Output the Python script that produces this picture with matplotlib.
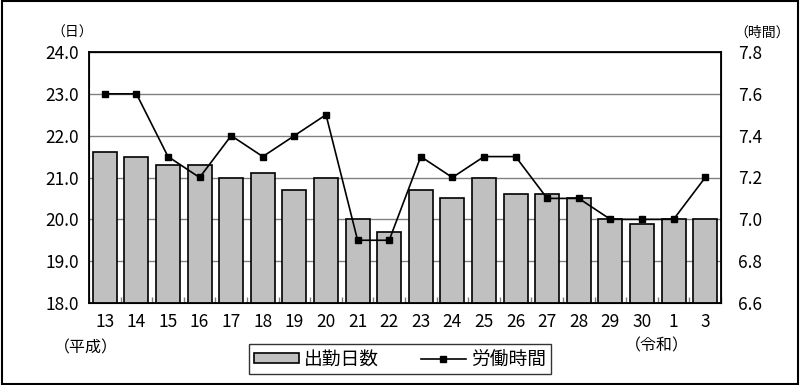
import matplotlib.pyplot as plt
import numpy as np

plt.rcParams['font.family'] = ['Noto Sans CJK JP', 'DejaVu Sans']

# データ
years = ['13', '14', '15', '16', '17', '18', '19', '20', '21', '22',
         '23', '24', '25', '26', '27', '28', '29', '30', '1', '3']
days = [21.6, 21.5, 21.3, 21.3, 21.0, 21.1, 20.7, 21.0, 20.0, 19.7,
        20.7, 20.5, 21.0, 20.6, 20.6, 20.5, 20.0, 19.9, 20.0, 20.0]
hours = [7.6, 7.6, 7.3, 7.2, 7.4, 7.3, 7.4, 7.5, 6.9, 6.9,
         7.3, 7.2, 7.3, 7.3, 7.1, 7.1, 7.0, 7.0, 7.0, 7.2]
left_ticks = [18.0, 19.0, 20.0, 21.0, 22.0, 23.0, 24.0]
right_ticks = [6.6, 6.8, 7.0, 7.2, 7.4, 7.6, 7.8]

fig = plt.figure(figsize=(8, 3.85), dpi=100)
ax = fig.add_axes([89 / 800, 1 - 303 / 385, (721 - 89) / 800, (303 - 52) / 385])
x = np.arange(len(years))

bars = ax.bar(x, days, width=0.76, color='#c0c0c0', edgecolor='black',
              linewidth=1.2, label='出勤日数', zorder=2)
ax.set_ylim(18, 24)
ax.set_xlim(-0.5, len(years) - 0.5)
ax.set_yticks(left_ticks)
ax.set_yticklabels([f'{v:.1f}' for v in left_ticks])
ax.set_xticks(x)
ax.set_xticklabels(years)
ax.set_xticks(np.arange(len(years) + 1) - 0.5, minor=True)
ax.grid(axis='y', color='#808080', linewidth=1, zorder=0)
ax.tick_params(axis='both', length=0, labelsize=12.5, pad=7)
ax.tick_params(axis='x', which='minor', direction='in', length=4,
               width=1, color='#808080')
for s in ax.spines.values():
    s.set_linewidth(1.3)

ax2 = ax.twinx()
line, = ax2.plot(x, hours, color='black', marker='s', markersize=5,
                 linewidth=1.2, label='労働時間', zorder=3)
ax2.set_ylim(6.6, 7.8)
ax2.set_yticks(right_ticks)
ax2.set_yticklabels([f'{v:.1f}' for v in right_ticks])
ax2.tick_params(axis='y', length=0, labelsize=12.5, pad=12)

fig.text(72 / 800, 1 - 33 / 385, '（日）', ha='center', va='center', fontsize=10)
fig.text(762 / 800, 1 - 33 / 385, '（時間）', ha='center', va='center', fontsize=10)
fig.text(86 / 800, 1 - 348 / 385, '（平成）', ha='center', va='center', fontsize=11.5)
fig.text(657 / 800, 1 - 346 / 385, '（令和）', ha='center', va='center', fontsize=11.5)

leg = fig.legend(handles=[bars, line], loc='center', ncol=2,
                 bbox_to_anchor=(400 / 800, 1 - 359 / 385), fontsize=13.5,
                 frameon=True, fancybox=False, edgecolor='black',
                 handlelength=2.4, handleheight=0.5, columnspacing=2.2,
                 borderpad=0.25, handletextpad=0.3)
leg.get_frame().set_linewidth(1)

# 外枠
fig.patches.append(plt.Rectangle((0.002, 0.003), 0.996, 0.994, transform=fig.transFigure,
                                 fill=False, edgecolor='black', linewidth=1.5))

fig.savefig('out.png', dpi=100)
